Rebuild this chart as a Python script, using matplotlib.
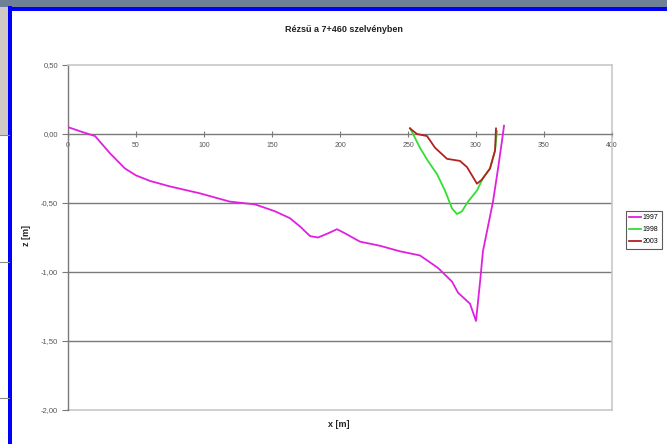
import matplotlib.pyplot as plt
from matplotlib.patches import Rectangle
from matplotlib.lines import Line2D

# measured cross-section profiles, x [m] along the section, z [m]
x_1997 = [0, 8.8, 19.9, 30.9, 41.9, 50, 60.3, 75, 97, 119, 137.5, 152.2, 163.2,
          170.6, 178, 183.8, 191.2, 197.8, 203.7, 214.7, 229.4, 244.1, 258.8,
          272, 282.4, 286.8, 295.6, 300, 303, 305.1, 312.5, 316.2, 319.1, 320.6]
z_1997 = [0.05, 0.02, -0.015, -0.14, -0.25, -0.30, -0.34, -0.38, -0.43, -0.49,
          -0.51, -0.56, -0.61, -0.67, -0.74, -0.75, -0.72, -0.69, -0.72, -0.78,
          -0.81, -0.85, -0.88, -0.97, -1.07, -1.15, -1.23, -1.355, -1.07, -0.85,
          -0.49, -0.25, -0.05, 0.06]

x_1998 = [251.5, 258.8, 264.7, 271.3, 277.2, 282.4, 286.0, 289.7, 294.1, 300.7,
          305.1, 310.3, 314.0, 315.4]
z_1998 = [0.043, -0.10, -0.196, -0.29, -0.41, -0.54, -0.58, -0.56, -0.49, -0.41,
          -0.32, -0.25, -0.12, 0.02]

x_2003 = [251.5, 256.6, 264.0, 269.9, 278.7, 288.2, 293.4, 300.7, 304.4, 310.3,
          314.0, 314.7]
z_2003 = [0.04, 0.0, -0.015, -0.10, -0.18, -0.195, -0.24, -0.36, -0.33, -0.25,
          -0.12, 0.04]

series_labels = ["1997", "1998", "2003"]
series_colors = ["#e020e0", "#33dd33", "#b52020"]

x_ticks = [0, 50, 100, 150, 200, 250, 300, 350, 400]
y_ticks = [0.5, 0.0, -0.5, -1.0, -1.5, -2.0]
y_tick_labels = ["0,50", "0,00", "-0,50", "-1,00", "-1,50", "-2,00"]

plt.rcParams['font.family'] = ['Liberation Sans', 'DejaVu Sans']

W, H = 667, 444
fig = plt.figure(figsize=(W / 100, H / 100), dpi=100, facecolor='white')

# slide background around the chart frame
fig.patches.append(Rectangle((0, 1 - 7 / H), 1, 7 / H, transform=fig.transFigure,
                             facecolor='#6f8196', edgecolor='none', zorder=0))
fig.patches.append(Rectangle((0, 1 - 135 / H), 9 / W, 128 / H, transform=fig.transFigure,
                             facecolor='#cfcac4', edgecolor='none', zorder=0))
for yy in (135, 262, 398):
    fig.add_artist(Line2D([0, 9 / W], [1 - yy / H] * 2, transform=fig.transFigure,
                          color='#8a8a8a', lw=0.8))
fig.patches.append(Rectangle((8 / W, 0), 4 / W, 1 - 6 / H, transform=fig.transFigure,
                             facecolor='#0000ff', edgecolor='none', zorder=1))
fig.patches.append(Rectangle((8 / W, 1 - 11 / H), 1 - 8 / W, 4 / H, transform=fig.transFigure,
                             facecolor='#0000ff', edgecolor='none', zorder=1))

ax = fig.add_axes([68 / W, 1 - 410 / H, 544 / W, 345 / H])
ax.set_xlim(0, 400)
ax.set_ylim(-2.0, 0.5)

for yv in (-0.5, -1.0, -1.5):
    ax.axhline(yv, color='#7a7a7a', lw=1.0, zorder=1)
ax.axhline(-2.0, color='#c8c8c8', lw=1.2, zorder=1, clip_on=False)

ax.plot(x_1997, z_1997, color=series_colors[0], lw=1.3, label=series_labels[0], zorder=3)
ax.plot(x_1998, z_1998, color=series_colors[1], lw=1.3, label=series_labels[1], zorder=3)
ax.plot(x_2003, z_2003, color=series_colors[2], lw=1.3, label=series_labels[2], zorder=4)

# x axis crosses at zero
ax.spines['bottom'].set_position(('data', 0))
ax.spines['bottom'].set_color('#7a7a7a')
ax.spines['bottom'].set_linewidth(1.0)
ax.spines['left'].set_color('#7a7a7a')
ax.spines['left'].set_linewidth(1.0)
for side in ('top', 'right'):
    ax.spines[side].set_color('#c8c8c8')
    ax.spines[side].set_linewidth(1.2)

ax.set_xticks(x_ticks)
ax.set_xticklabels([str(v) for v in x_ticks])
ax.set_yticks(y_ticks)
ax.set_yticklabels(y_tick_labels)
ax.tick_params(axis='x', direction='inout', length=4, width=0.8, color='#7a7a7a',
               labelsize=5, labelcolor='#555555', pad=4)
ax.tick_params(axis='y', direction='out', length=4, width=0.8, color='#7a7a7a',
               labelsize=5.5, labelcolor='#555555', pad=3)

fig.text(344 / W, 1 - 30 / H, "Rézsű a 7+460 szelvényben", ha='center', va='center',
         fontsize=6.5, fontweight='bold', color='#222222')
fig.text(339 / W, 1 - 424 / H, "x [m]", ha='center', va='center',
         fontsize=6.5, fontweight='bold', color='#222222')
fig.text(27 / W, 1 - 235 / H, "z [m]", ha='center', va='center', rotation=90,
         fontsize=6.5, fontweight='bold', color='#222222')

handles, labels = ax.get_legend_handles_labels()
leg = fig.legend(handles, labels, loc='upper left', bbox_to_anchor=(626 / W, 1 - 211 / H),
                 fontsize=5, frameon=True, fancybox=False, handlelength=1.6,
                 handletextpad=0.3, borderpad=0.5, labelspacing=0.7, borderaxespad=0)
leg.get_frame().set_edgecolor('#333333')
leg.get_frame().set_linewidth(0.8)

fig.savefig("out.png", dpi=100, facecolor=fig.get_facecolor())
